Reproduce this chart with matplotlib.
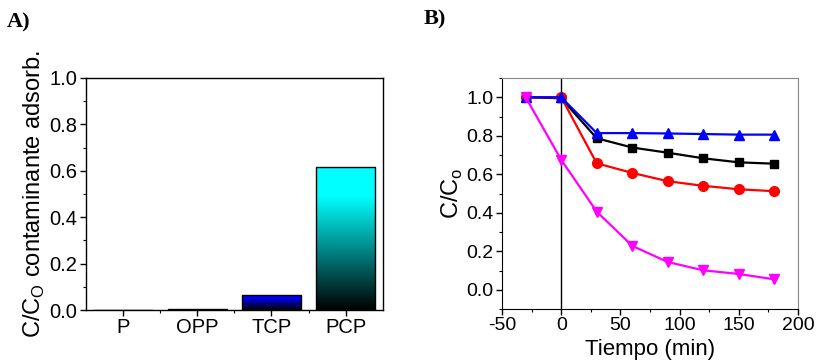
import matplotlib
matplotlib.use("Agg")
import matplotlib.pyplot as plt
import numpy as np
from matplotlib.ticker import MultipleLocator, FixedLocator
from matplotlib.colors import to_rgb

plt.rcParams['font.family'] = ['Liberation Sans', 'DejaVu Sans']
plt.rcParams['mathtext.fontset'] = 'custom'
plt.rcParams['mathtext.rm'] = 'Liberation Sans'
plt.rcParams['axes.unicode_minus'] = False

# panel A data
compuestos = ['P', 'OPP', 'TCP', 'PCP']
adsorb = [0.001, 0.004, 0.065, 0.616]
colores_bar = ['#000000', '#556b2f', '#0000ff', '#00ffff']

# panel B data
tiempo = [-30, 0, 30, 60, 90, 120, 150, 180]
serie_negra = [1.0, 0.995, 0.787, 0.739, 0.712, 0.683, 0.662, 0.655]
serie_roja = [1.0, 1.0, 0.657, 0.607, 0.564, 0.540, 0.522, 0.512]
serie_azul = [1.0, 1.0, 0.814, 0.814, 0.812, 0.809, 0.806, 0.806]
serie_magenta = [1.0, 0.675, 0.406, 0.228, 0.144, 0.101, 0.082, 0.054]

fsA = 14.5
fsB = 14
fig = plt.figure(figsize=(8.18, 3.62), dpi=100)

# ---- A) bars with gradient to black
axA = fig.add_axes([0.105, 0.1436, 0.363, 0.641])
x = np.arange(len(compuestos))
bars = axA.bar(x, adsorb, width=0.8, color='none', edgecolor='black', linewidth=1, zorder=3)
grad = np.linspace(0, 1, 256)
grad = np.clip(grad * 1.25, 0, 1)
for b, c in zip(bars, colores_bar):
    rgb = np.array(to_rgb(c))
    img = grad[:, None, None] * rgb[None, None, :]
    img = np.repeat(img, 2, axis=1)
    x0, y0 = b.get_x(), b.get_y()
    im = axA.imshow(img, extent=[x0, x0 + b.get_width(), y0, y0 + b.get_height()],
                    origin='lower', aspect='auto', zorder=2)
    im.set_clip_path(b)
axA.set_xlim(-0.5, 3.5)
axA.set_ylim(0, 1.0)
axA.set_xticks(x)
axA.set_xticklabels(compuestos)
axA.xaxis.set_minor_locator(FixedLocator([0.5, 1.5, 2.5]))
axA.yaxis.set_major_locator(MultipleLocator(0.2))
axA.yaxis.set_minor_locator(MultipleLocator(0.1))
axA.tick_params(direction='out', labelsize=fsA, length=4, width=1, pad=2)
axA.tick_params(which='minor', direction='out', length=2.5, width=0.8)
axA.set_ylabel('C/C$_\\mathrm{O}$ contaminante adsorb.', fontsize=17, labelpad=2)
for s in axA.spines.values():
    s.set_linewidth(1)

# ---- B) kinetics
axB = fig.add_axes([0.6137, 0.1464, 0.3619, 0.638])
axB.axvline(0, color='black', lw=1, zorder=1)
axB.plot(tiempo, serie_negra, '-s', color='black', lw=1.6, ms=6, zorder=3)
axB.plot(tiempo, serie_roja, '-o', color='red', lw=1.6, ms=7, zorder=3)
axB.plot(tiempo, serie_azul, '-^', color='blue', lw=1.6, ms=7.5, zorder=3)
axB.plot(tiempo, serie_magenta, '-v', color='magenta', lw=1.6, ms=7.5, zorder=3)
axB.set_xlim(-50, 200)
axB.set_ylim(-0.1, 1.1)
axB.xaxis.set_major_locator(MultipleLocator(50))
axB.xaxis.set_minor_locator(MultipleLocator(25))
axB.yaxis.set_major_locator(FixedLocator([0, 0.2, 0.4, 0.6, 0.8, 1.0]))
axB.yaxis.set_minor_locator(FixedLocator([-0.1, 0.1, 0.3, 0.5, 0.7, 0.9, 1.1]))
axB.tick_params(direction='out', labelsize=fsB, length=4, width=1, pad=2)
axB.tick_params(which='minor', direction='out', length=2.5, width=0.8)
axB.set_ylabel('C/C$_\\mathrm{o}$', fontsize=17, labelpad=1)
axB.set_xlabel('Tiempo (min)', fontsize=16, labelpad=3)
axB.spines['top'].set_color('#888888')
axB.spines['right'].set_color('#888888')

fig.text(0.008, 0.965, 'A)', fontsize=16, fontweight='bold', family='Liberation Serif', va='top')
fig.text(0.518, 0.975, 'B)', fontsize=16, fontweight='bold', family='Liberation Serif', va='top')

fig.savefig('out.png', dpi=100)
